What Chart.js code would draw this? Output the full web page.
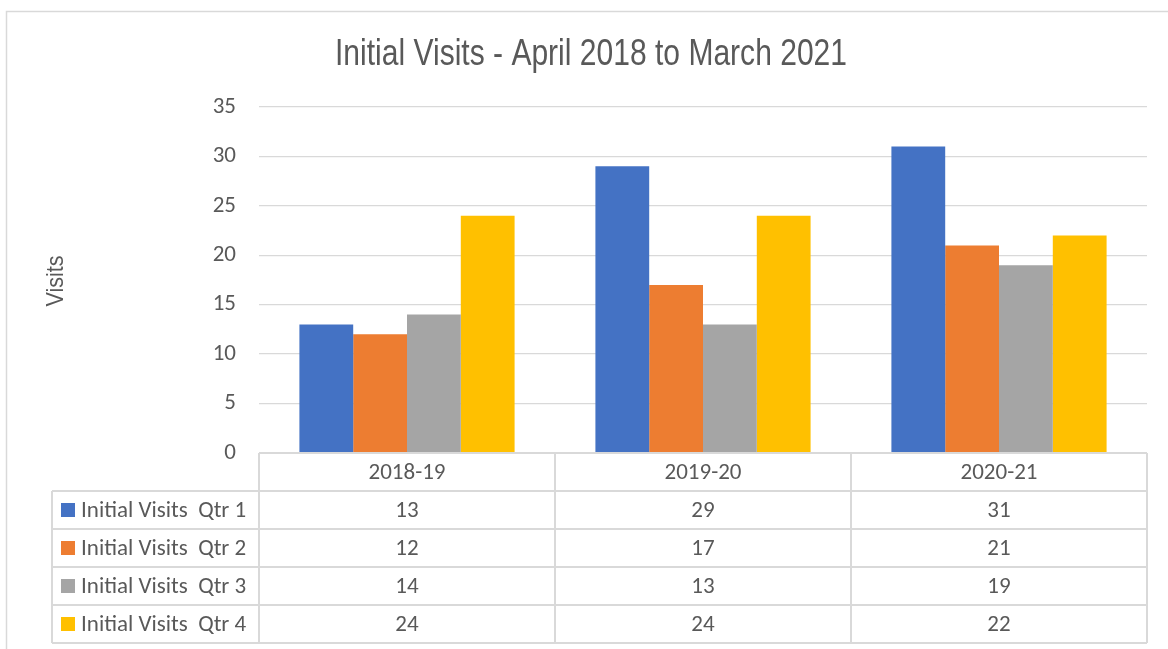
<!DOCTYPE html>
<html>
<head>
<meta charset="utf-8">
<script src="https://cdn.jsdelivr.net/npm/chart.js@4.4.1/dist/chart.umd.min.js"></script>
<style>
  html, body { margin: 0; padding: 0; background: #ffffff; }
  #wrap { width: 1168px; height: 649px; position: relative; }
</style>
</head>
<body>
<div id="wrap"><canvas id="c" width="1168" height="649"></canvas></div>
<script>
const categories = ['2018-19', '2019-20', '2020-21'];
const seriesNames = ['Initial Visits  Qtr 1', 'Initial Visits  Qtr 2', 'Initial Visits  Qtr 3', 'Initial Visits  Qtr 4'];
const qtr1 = [13, 29, 31];
const qtr2 = [12, 17, 21];
const qtr3 = [14, 13, 19];
const qtr4 = [24, 24, 22];
const seriesColors = ['#4472C4', '#ED7D31', '#A5A5A5', '#FFC000'];
const yTicks = [0, 5, 10, 15, 20, 25, 30, 35];
const chartTitle = 'Initial Visits - April 2018 to March 2021';
const yTitle = 'Visits';

const seriesValues = [qtr1, qtr2, qtr3, qtr4];
const TEXT = '#595959';
const LINE = '#d9d9d9';
const BODY_FONT = 'Carlito, Lato, "Open Sans", sans-serif';
const NARROW_FONT = '"Liberation Sans Narrow", "Arial Narrow", "Liberation Sans", Arial, sans-serif';

// draw text compressed horizontally to fit a given width (emulates a narrow face)
function narrowText(ctx, text, x, y, size, targetWidth, rotate) {
  ctx.save();
  ctx.font = size + 'px ' + NARROW_FONT;
  const w = ctx.measureText(text).width;
  const sx = Math.min(1, targetWidth / w);
  ctx.translate(x, y);
  if (rotate) ctx.rotate(-Math.PI / 2);
  ctx.scale(sx, 1);
  ctx.fillStyle = TEXT;
  ctx.textAlign = 'center';
  ctx.textBaseline = 'alphabetic';
  ctx.fillText(text, 0, 0);
  ctx.restore();
}

const frameAndTable = {
  id: 'frameAndTable',
  beforeDraw(chart) {
    const ctx = chart.ctx;
    ctx.save();
    ctx.fillStyle = '#ffffff';
    ctx.fillRect(0, 0, chart.width, chart.height);
    ctx.strokeStyle = LINE;
    ctx.lineWidth = 1.5;
    ctx.beginPath();
    ctx.moveTo(6.5, chart.height);
    ctx.lineTo(6.5, 11.5);
    ctx.lineTo(chart.width, 11.5);
    ctx.stroke();
    ctx.restore();
  },
  afterDraw(chart) {
    const ctx = chart.ctx;
    const xs = chart.scales.x;
    const area = chart.chartArea;
    const n = categories.length;
    const catW = (area.right - area.left) / n;
    const rowH = 38;
    const top = area.bottom;
    const legendLeft = 52;

    narrowText(ctx, chartTitle, 591, 65, 37, 512, false);
    narrowText(ctx, yTitle, 63, 281, 24, 51, true);

    ctx.save();
    ctx.strokeStyle = LINE;
    ctx.lineWidth = 2;
    ctx.beginPath();
    for (let k = 0; k <= seriesValues.length + 1; k++) {
      const y = top + k * rowH;
      const x0 = k === 0 ? area.left : legendLeft;
      ctx.moveTo(x0, y);
      ctx.lineTo(area.right, y);
    }
    for (let i = 0; i <= n; i++) {
      const x = area.left + i * catW;
      ctx.moveTo(x, top);
      ctx.lineTo(x, top + rowH * (seriesValues.length + 1));
    }
    ctx.moveTo(legendLeft, top + rowH);
    ctx.lineTo(legendLeft, top + rowH * (seriesValues.length + 1));
    ctx.stroke();

    ctx.fillStyle = TEXT;
    ctx.font = '23px ' + BODY_FONT;
    ctx.textAlign = 'center';
    ctx.textBaseline = 'middle';
    categories.forEach((c, i) => {
      ctx.fillText(c, xs.getPixelForValue(i), top + rowH / 2 + 1);
    });
    seriesValues.forEach((vals, s) => {
      const cy = top + rowH * (s + 1) + rowH / 2 + 1;
      vals.forEach((v, i) => {
        ctx.fillStyle = TEXT;
        ctx.textAlign = 'center';
        ctx.fillText(String(v), xs.getPixelForValue(i), cy);
      });
      ctx.fillStyle = seriesColors[s];
      ctx.fillRect(61, cy - 8, 14, 14);
      ctx.fillStyle = TEXT;
      ctx.textAlign = 'left';
      ctx.fillText(seriesNames[s], 81, cy);
    });
    ctx.restore();
  }
};

new Chart(document.getElementById('c'), {
  type: 'bar',
  data: {
    labels: categories,
    datasets: seriesNames.map((name, s) => ({
      label: name,
      data: seriesValues[s],
      backgroundColor: seriesColors[s],
      borderWidth: 0,
      categoryPercentage: 0.727,
      barPercentage: 1.0
    }))
  },
  options: {
    responsive: false,
    animation: false,
    devicePixelRatio: 1,
    layout: { padding: { left: 0, right: 21, top: 107, bottom: 196 } },
    plugins: {
      legend: { display: false },
      tooltip: { enabled: false },
      title: { display: false }
    },
    scales: {
      x: {
        ticks: { display: false },
        grid: { display: false },
        border: { display: false },
        afterFit(scale) { scale.height = 0; }
      },
      y: {
        min: 0,
        max: 35,
        afterBuildTicks(scale) { scale.ticks = yTicks.map(v => ({ value: v })); },
        afterFit(scale) { scale.width = 259; },
        ticks: {
          color: TEXT,
          padding: 23,
          font: { family: BODY_FONT, size: 23 }
        },
        grid: { color: LINE, lineWidth: 1.3, drawTicks: false },
        border: { display: false },
        title: { display: false }
      }
    }
  },
  plugins: [frameAndTable]
});
</script>
</body>
</html>
